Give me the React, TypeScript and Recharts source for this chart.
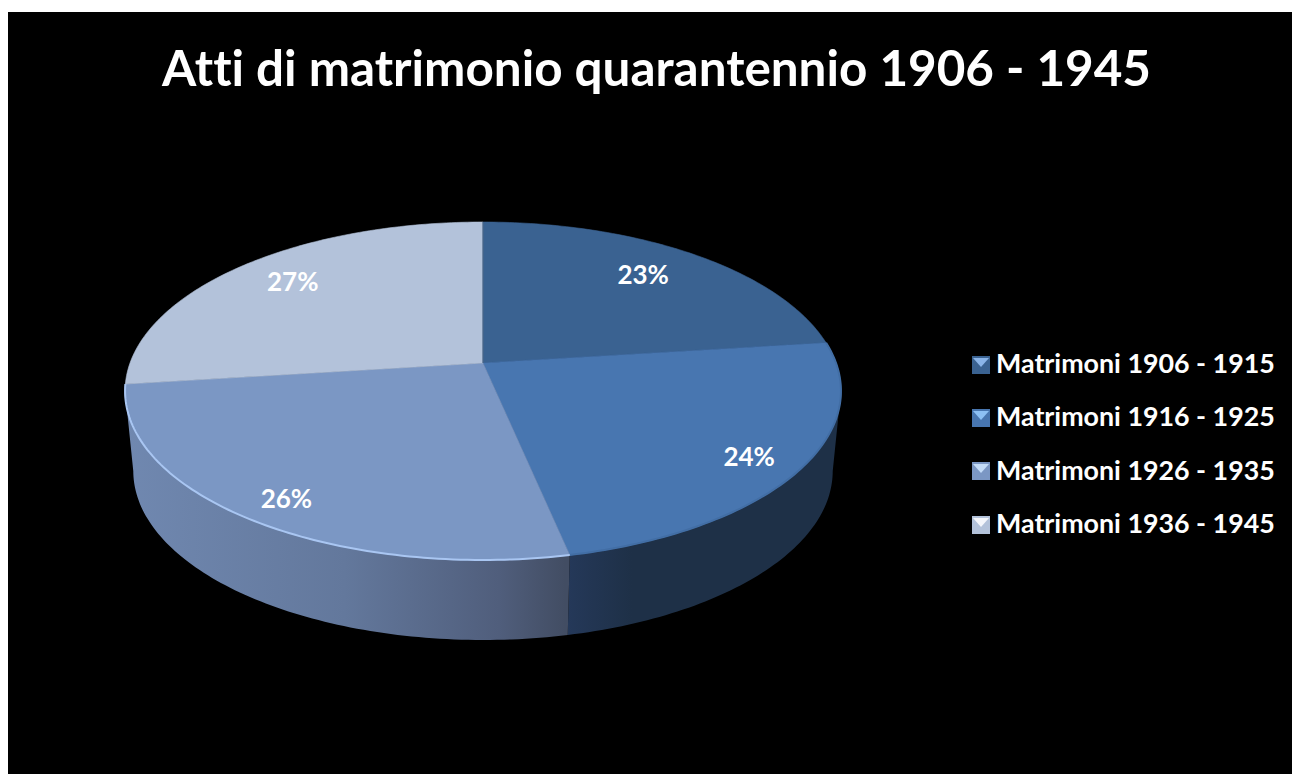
import { PieChart, Pie, Legend } from "recharts";

const categories = [
  "Matrimoni 1906 - 1915",
  "Matrimoni 1916 - 1925",
  "Matrimoni 1926 - 1935",
  "Matrimoni 1936 - 1945",
];
const values = [23, 23.7, 26.3, 27];
const faceColors = ["#3a6291", "#4876b0", "#7b97c4", "#b3c2da"];
const wallFills = ["#1e3047", "url(#wallBlue)", "url(#wallLight)", "#5d6b85"];
const rimColors = ["none", "#426ea5", "#a9c6f2", "none"];
const markerLights = ["#8ab4e8", "#8cc0f4", "#c4dcf8", "#f4f6fb"];
const labelRadius = [0.75, 0.85, 0.85, 0.78];

const title = "Atti di matrimonio quarantennio 1906 - 1945";
const fontFamily = "Lato, 'Open Sans', sans-serif";

const data = categories.map((name, i) => ({ name, value: values[i], fill: faceColors[i] }));

// Il piano della torta e' inclinato: il centro non sta a meta' dell'ellisse
const TILT = -0.1657;
const SCALE_Y = 0.4656;
const LABEL_STRETCH = 1.05;
const DEPTH = 80;
const BOTTOM_SCALE = 0.977;
const VISIBLE_FROM = 99.5;
const VISIBLE_TO = 260.5;

function project(cx: number, cy: number, r: number, theta: number, f = 1) {
  const rad = (theta * Math.PI) / 180;
  const u = Math.sin(rad) * f;
  const v = -Math.cos(rad) * f;
  const w = 1 + TILT * v;
  return { x: cx + (r * u) / w, y: cy + (r * SCALE_Y * v) / w };
}

function arcPoints(cx: number, cy: number, r: number, from: number, to: number) {
  const points = [];
  const steps = Math.max(2, Math.ceil(to - from));
  for (let i = 0; i <= steps; i++) {
    points.push(project(cx, cy, r, from + ((to - from) * i) / steps));
  }
  return points;
}

function toPath(points: { x: number; y: number }[]) {
  return points.map((p) => `${p.x.toFixed(2)} ${p.y.toFixed(2)}`).join(" L ");
}

function Slice3D(props: any) {
  const { cx, cy, outerRadius, startAngle, endAngle, fill, index } = props;
  const from = 90 - startAngle;
  const to = 90 - endAngle;
  const rim = arcPoints(cx, cy, outerRadius, from, to);
  const wallFrom = Math.max(from, VISIBLE_FROM);
  const wallTo = Math.min(to, VISIBLE_TO);
  let wall = null;
  if (wallTo > wallFrom) {
    const top = arcPoints(cx, cy, outerRadius, wallFrom, wallTo);
    const bottom = top
      .map((p) => ({ x: cx + (p.x - cx) * BOTTOM_SCALE, y: p.y + DEPTH }))
      .reverse();
    wall = <path d={`M ${toPath(top)} L ${toPath(bottom)} Z`} fill={wallFills[index]} />;
  }
  return (
    <g>
      {wall}
      <path d={`M ${cx} ${cy} L ${toPath(rim)} Z`} fill={fill} stroke={fill} strokeWidth={0.6} />
      {rimColors[index] !== "none" && (
        <path d={`M ${toPath(rim)}`} fill="none" stroke={rimColors[index]} strokeWidth={2} />
      )}
      {index === 3 && (
        <path d={`M ${toPath([{ x: cx, y: cy }, rim[rim.length - 1]])}`} stroke="#2b4a70" strokeWidth={1} />
      )}
    </g>
  );
}

function renderLabel(props: any) {
  const { cx, cy, outerRadius, midAngle, index, percent } = props;
  const p = project(cx, cy, outerRadius, 90 - midAngle, labelRadius[index]);
  return (
    <text
      x={p.x}
      y={cy + (p.y - cy) * LABEL_STRETCH}
      fill="#ffffff"
      fontFamily={fontFamily}
      fontWeight={700}
      fontSize={26}
      textAnchor="middle"
      dominantBaseline="central"
    >
      {Math.round(percent * 100)}%
    </text>
  );
}

function renderLegend(props: any) {
  const { payload } = props;
  return (
    <div>
      {(payload || []).map((entry: any, i: number) => (
        <div key={entry.value} style={{ display: "flex", alignItems: "center", height: 53.3 }}>
          <svg width={18} height={18} style={{ marginRight: 6 }}>
            <rect width={18} height={18} fill={entry.color} />
            <polygon points="1,2 17,2 9,11" fill={markerLights[i]} />
          </svg>
          <span
            style={{
              position: "relative",
              top: -1.5,
              color: "#ffffff",
              fontFamily,
              fontWeight: 700,
              fontSize: 26.8,
              whiteSpace: "nowrap",
              fontVariantLigatures: "none",
            }}
          >
            {entry.value}
          </span>
        </div>
      ))}
    </div>
  );
}

export default function App() {
  return (
    <div style={{ position: "absolute", left: 8, top: 12, width: 1284, height: 762, background: "#000000", overflow: "hidden" }}>
      <PieChart width={1284} height={762} margin={{ top: 0, right: 0, bottom: 0, left: 0 }}>
        <defs>
          <linearGradient id="wallLight" gradientUnits="userSpaceOnUse" x1={117} y1={0} x2={557} y2={0}>
            <stop offset="0%" stopColor="#7088b0" />
            <stop offset="50%" stopColor="#63789c" />
            <stop offset="85%" stopColor="#505e7c" />
            <stop offset="100%" stopColor="#424d63" />
          </linearGradient>
          <linearGradient id="wallBlue" gradientUnits="userSpaceOnUse" x1={557} y1={0} x2={825} y2={0}>
            <stop offset="0%" stopColor="#25395a" />
            <stop offset="25%" stopColor="#1e3047" />
            <stop offset="100%" stopColor="#1e3047" />
          </linearGradient>
        </defs>
        <text
          x={648.5}
          y={74}
          textAnchor="middle"
          fill="#ffffff"
          fontFamily={fontFamily}
          fontWeight={700}
          fontSize={49.4}
          style={{ fontVariantLigatures: "none" }}
        >
          {title}
        </text>
        <Pie
          data={data}
          dataKey="value"
          nameKey="name"
          cx={475}
          cy={351}
          outerRadius={353}
          startAngle={90}
          endAngle={-270}
          stroke="none"
          shape={Slice3D}
          label={renderLabel}
          labelLine={false}
          isAnimationActive={false}
        />
        <Legend
          layout="vertical"
          content={renderLegend}
          wrapperStyle={{ left: 964, top: 326, width: 320, bottom: "auto", right: "auto" }}
        />
      </PieChart>
    </div>
  );
}
